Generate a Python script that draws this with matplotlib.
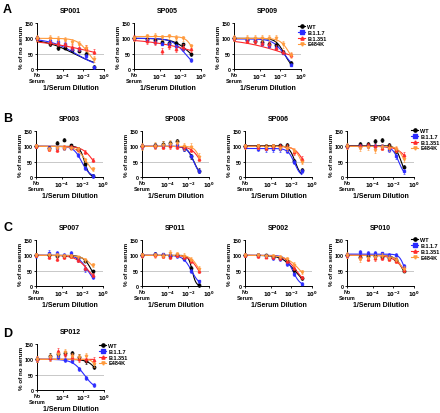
import numpy as np
import matplotlib
matplotlib.use("Agg")
import matplotlib.pyplot as plt
from matplotlib.lines import Line2D
from matplotlib.ticker import FixedLocator, NullLocator

plt.rcParams['font.family'] = ['Liberation Sans', 'DejaVu Sans']
plt.rcParams['font.weight'] = 'bold'
plt.rcParams['mathtext.default'] = 'bf'

variants = ["WT", "B.1.1.7", "B.1.351", "E484K"]
colours = ["#000000", "#2a2aff", "#ff2a2a", "#ff9a3c"]
markers = ["o", "s", "^", "v"]

# 5-fold serum dilutions, first point is the no-serum control
dilution = [156250, 31250, 6250, 1250, 250, 50, 10]
no_serum_x = 10 ** -6.5

# % of no serum, per variant (no serum, then dilutions as above)
SP001 = {"WT": [100, 80, 68, 70, 63, 60, 48, 6],
         "B.1.1.7": [100, 91, 88, 82, 66, 65, 42, 5],
         "B.1.351": [100, 88, 85, 82, 72, 68, 68, 57],
         "E484K": [100, 100, 99, 95, 88, 80, 68, 33]}
SP005 = {"WT": [100, 97, 93, 88, 86, 86, 80, 48],
         "B.1.1.7": [100, 93, 87, 83, 83, 74, 65, 30],
         "B.1.351": [100, 90, 88, 58, 76, 66, 72, 65],
         "E484K": [100, 106, 108, 104, 106, 102, 100, 75]}
SP009 = {"WT": [100, 94, 92, 87, 81, 79, 56, 19],
         "B.1.1.7": [100, 94, 94, 82, 76, 70, 53, 14],
         "B.1.351": [100, 92, 90, 85, 80, 70, 55, 45],
         "E484K": [100, 102, 100, 100, 102, 100, 80, 45]}
SP003 = {"WT": [100, 96, 112, 122, 104, 92, 43, 4],
         "B.1.1.7": [100, 95, 96, 93, 96, 71, 28, 3],
         "B.1.351": [100, 92, 88, 97, 98, 92, 82, 55],
         "E484K": [100, 92, 95, 96, 95, 90, 55, 26]}
SP008 = {"WT": [100, 103, 108, 110, 116, 94, 68, 20],
         "B.1.1.7": [100, 100, 100, 104, 103, 92, 67, 20],
         "B.1.351": [100, 100, 98, 100, 98, 97, 88, 60],
         "E484K": [100, 102, 104, 108, 110, 100, 98, 65]}
SP006 = {"WT": [100, 100, 102, 100, 103, 105, 52, 24],
         "B.1.1.7": [100, 92, 90, 90, 90, 86, 48, 20],
         "B.1.351": [100, 98, 95, 100, 100, 98, 80, 60],
         "E484K": [100, 100, 98, 100, 96, 94, 85, 50]}
SP004 = {"WT": [100, 108, 107, 117, 120, 104, 84, 34],
         "B.1.1.7": [100, 100, 100, 102, 100, 89, 67, 18],
         "B.1.351": [100, 100, 104, 100, 95, 98, 89, 72],
         "E484K": [100, 95, 98, 88, 98, 95, 90, 58]}
SP007 = {"WT": [100, 100, 98, 97, 98, 91, 82, 48],
         "B.1.1.7": [100, 108, 106, 100, 107, 87, 55, 30],
         "B.1.351": [100, 95, 87, 96, 98, 84, 60, 37],
         "E484K": [100, 100, 100, 99, 98, 93, 85, 68]}
SP011 = {"WT": [100, 104, 100, 98, 100, 92, 60, 3],
         "B.1.1.7": [100, 104, 103, 100, 98, 88, 50, 15],
         "B.1.351": [100, 100, 98, 96, 100, 95, 82, 50],
         "E484K": [100, 100, 98, 108, 104, 98, 85, 56]}
SP002 = {"WT": [100, 102, 100, 95, 92, 80, 52, 25],
         "B.1.1.7": [100, 100, 98, 90, 88, 72, 38, 8],
         "B.1.351": [100, 98, 96, 95, 90, 82, 58, 28],
         "E484K": [100, 100, 98, 98, 95, 88, 70, 45]}
SP010 = {"WT": [100, 96, 97, 97, 95, 92, 85, 50],
         "B.1.1.7": [100, 110, 108, 108, 106, 100, 100, 66],
         "B.1.351": [100, 93, 88, 90, 92, 88, 82, 53],
         "E484K": [100, 88, 92, 95, 98, 90, 86, 55]}
SP012 = {"WT": [100, 112, 118, 120, 120, 109, 93, 76],
         "B.1.1.7": [100, 105, 108, 98, 95, 69, 40, 16],
         "B.1.351": [100, 104, 128, 118, 108, 102, 100, 98],
         "E484K": [100, 106, 118, 124, 112, 107, 110, 86]}

# typical SD per variant (WT, B.1.1.7, B.1.351, E484K)
SP001_sd = [6, 6, 9, 10]
SP005_sd = [5, 6, 10, 8]
SP009_sd = [6, 5, 7, 10]
SP003_sd = [5, 6, 7, 7]
SP008_sd = [8, 6, 8, 12]
SP006_sd = [6, 7, 8, 9]
SP004_sd = [6, 7, 8, 10]
SP007_sd = [5, 8, 7, 6]
SP011_sd = [6, 6, 7, 8]
SP002_sd = [5, 6, 6, 7]
SP010_sd = [5, 6, 8, 10]
SP012_sd = [8, 6, 10, 10]

# fitted curves: (top, log10 IC50, hill) per variant
SP001_fit = [(100, -2.9, 0.29), (100, -2.74, 0.34), (100, -0.4, 0.142), (100, -1.48, 0.79)]
SP005_fit = [(100, -1.0, 0.54), (100, -1.54, 0.69), (100, 0.1, 0.17), (106, -0.63, 1.14)]
SP009_fit = [(100, -1.62, 1.07), (98, -1.65, 0.8), (100, -1.48, 0.19), (100, -1.09, 0.98)]
SP003_fit = [(100, -1.79, 1.9), (100, -2.07, 1.11), (100, -0.89, 0.82), (100, -1.6, 0.9)]
SP008_fit = [(100, -1.46, 1.3), (100, -1.48, 1.3), (100, -0.78, 0.94), (100, -0.78, 1.5)]
SP006_fit = [(102, -1.65, 1.5), (93, -1.72, 1.4), (100, -0.8, 1.0), (100, -1.0, 1.2)]
SP004_fit = [(102, -1.25, 1.6), (100, -1.48, 1.39), (100, -0.47, 0.77), (100, -0.89, 1.31)]
SP007_fit = [(100, -1.08, 1.07), (100, -1.47, 0.93), (100, -1.4, 0.69), (100, -0.64, 0.74)]
SP011_fit = [(100, -1.63, 2.4), (100, -1.7, 1.07), (100, -1.0, 0.94), (100, -0.9, 1.09)]
SP002_fit = [(100, -1.68, 0.7), (100, -1.87, 1.21), (100, -1.52, 0.79), (100, -1.13, 0.65)]
SP010_fit = [(100, -1.03, 1.13), (104, -0.86, 1.66), (100, -0.88, 0.73), (100, -0.97, 1.05)]
SP012_fit = [(100, -0.44, 0.89), (100, -1.93, 0.78), (100, 2.0, 1.0), (100, -0.6, 2.0)]

W, H = 440, 414
fig = plt.figure(figsize=(W / 100, H / 100), dpi=100)

xs = np.array([no_serum_x] + [1 / d for d in dilution])
xfine = np.logspace(np.log10(no_serum_x), np.log10(1 / dilution[-1]), 200)

# (name, data, sd, fit, left px, top px, legend pos px or None)
panels = [
    ("SP001", SP001, SP001_sd, SP001_fit, 37, 24, None),
    ("SP005", SP005, SP005_sd, SP005_fit, 134, 24, None),
    ("SP009", SP009, SP009_sd, SP009_fit, 234, 24, (298, 25)),
    ("SP003", SP003, SP003_sd, SP003_fit, 36, 132, None),
    ("SP008", SP008, SP008_sd, SP008_fit, 142, 132, None),
    ("SP006", SP006, SP006_sd, SP006_fit, 245, 132, None),
    ("SP004", SP004, SP004_sd, SP004_fit, 347, 132, (411, 129)),
    ("SP007", SP007, SP007_sd, SP007_fit, 36, 241, None),
    ("SP011", SP011, SP011_sd, SP011_fit, 142, 241, None),
    ("SP002", SP002, SP002_sd, SP002_fit, 245, 241, None),
    ("SP010", SP010, SP010_sd, SP010_fit, 347, 241, (411, 238)),
    ("SP012", SP012, SP012_sd, SP012_fit, 37, 345, (99, 344)),
]

ax_w, ax_h = 67, 46

for name, data, sd, fit, left, top, leg in panels:
    ax = fig.add_axes([left / W, 1 - (top + ax_h) / H, ax_w / W, ax_h / H])
    ax.axhline(50, color="#c8c8c8", lw=0.7, zorder=0)
    for i, v in enumerate(variants):
        T, c, h = fit[i]
        curve = T / (1 + 10 ** ((np.log10(xfine) - c) * h))
        ax.plot(xfine, curve, color=colours[i], lw=0.8, zorder=2 + i * 0.1, clip_on=False)
        ax.errorbar(xs, data[v], yerr=sd[i], fmt=markers[i], color=colours[i],
                    ms=1.8, elinewidth=0.45, capsize=0.9, capthick=0.45, alpha=0.9,
                    zorder=3 + i * 0.1, clip_on=False)
    ax.set_xscale("log")
    ax.set_xlim(no_serum_x, 1)
    ax.set_ylim(0, 150)
    ax.xaxis.set_major_locator(FixedLocator([no_serum_x, 1e-4, 1e-2, 1]))
    ax.xaxis.set_minor_locator(NullLocator())
    ax.set_xticklabels(["No\nSerum", r"$10^{-4}$", r"$10^{-2}$", r"$10^{0}$"])
    ax.set_yticks([0, 50, 100, 150])
    for s in ["top", "right"]:
        ax.spines[s].set_visible(False)
    for s in ["left", "bottom"]:
        ax.spines[s].set_linewidth(0.7)
    ax.tick_params(labelsize=3.8, length=1.6, width=0.6, pad=0.6)
    for lab in ax.get_xticklabels():
        lab.set_linespacing(1.2)
    ax.set_title(name, fontsize=5, fontweight="bold", pad=8)
    ax.set_ylabel("% of no serum", fontsize=4.5, fontweight="bold", labelpad=1)
    ax.set_xlabel("1/Serum Dilution", fontsize=5, fontweight="bold", labelpad=1)
    if leg is not None:
        handles = [Line2D([0], [0], color=colours[i], marker=markers[i], lw=0.8, ms=2.3)
                   for i in range(4)]
        fig.legend(handles, variants, loc="upper left",
                   bbox_to_anchor=(leg[0] / W, 1 - leg[1] / H), frameon=False,
                   fontsize=4, handlelength=1.3, handletextpad=0.4,
                   labelspacing=0.15, borderpad=0, borderaxespad=0)

for letter, y in [("A", 4), ("B", 113), ("C", 222), ("D", 328)]:
    fig.text(3 / W, 1 - y / H, letter, fontsize=9, fontweight="bold", va="top")

fig.savefig("out.png", dpi=100)
